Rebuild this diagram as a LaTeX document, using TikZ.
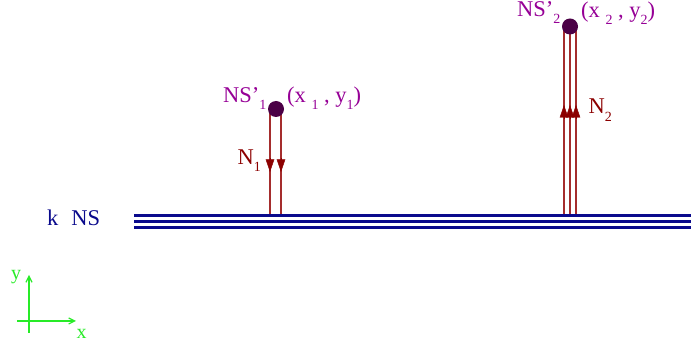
\documentclass[tikz,border=0pt]{standalone}
\usepackage{fontspec}
\setmainfont{Liberation Serif}
\usetikzlibrary{arrows.meta,calc}
\definecolor{navy}{RGB}{10,10,140}
\definecolor{purp}{RGB}{150,0,150}
\definecolor{dotc}{RGB}{75,0,70}
\definecolor{nred}{RGB}{140,0,0}
\definecolor{lred}{RGB}{165,45,45}
\definecolor{axg}{RGB}{40,235,40}
\newcommand{\mysub}[1]{\raisebox{-0.32em}{\fontsize{14}{14}\selectfont #1}}
\tikzset{
  txt/.style={inner sep=0pt, anchor=base west, font=\fontsize{22.5}{26}\selectfont},
  nslab/.style={txt, text=purp},
  nlab/.style={txt, text=nred},
  dotn/.style={circle, fill=dotc, minimum size=16pt, inner sep=0pt},
  layer/.style={draw=navy, line width=2.4pt},
  flux/.style={draw=lred, line width=1.3pt},
  tipd/.style={-{Triangle[length=12.5pt,width=8.5pt]}, nred},
  axis/.style={draw=axg, line width=1.2pt, -{Straight Barb[length=6pt,width=6pt]}},
  axlab/.style={inner sep=0pt, anchor=base west, text=axg, font=\fontsize{20}{24}\selectfont}
}
\begin{document}
\begin{tikzpicture}[x=1pt,y=-1pt]
\useasboundingbox (0,0) rectangle (691,347);
% layers
\coordinate (L1a) at (134,215.5); \coordinate (L1b) at (691,215.5);
\coordinate (L2a) at (134,221.5); \coordinate (L2b) at (691,221.5);
\coordinate (L3a) at (134,227.5); \coordinate (L3b) at (691,227.5);
\draw[layer] (L1a) -- (L1b);
\draw[layer] (L2a) -- (L2b);
\draw[layer] (L3a) -- (L3b);
\node[txt, text=navy] (kns) at (47,226) {k\hspace{13pt}NS};
% NS'1 flux lines (downward)
\coordinate (a1t) at (270,112); \coordinate (a1m) at (270,172); \coordinate (a1b) at (270,214.3);
\coordinate (b1t) at (281,112); \coordinate (b1m) at (281,172); \coordinate (b1b) at (281,214.3);
\draw[flux] (a1t) -- (a1b);
\draw[flux] (b1t) -- (b1b);
\draw[tipd] ($(a1m)+(0,-14)$) -- (a1m);
\draw[tipd] ($(b1m)+(0,-14)$) -- (b1m);
% NS'2 flux lines (upward)
\coordinate (a2t) at (564,28); \coordinate (a2m) at (564,105); \coordinate (a2b) at (564,214.3);
\coordinate (b2t) at (570,28); \coordinate (b2m) at (570,105); \coordinate (b2b) at (570,214.3);
\coordinate (c2t) at (576,28); \coordinate (c2m) at (576,105); \coordinate (c2b) at (576,214.3);
\draw[flux] (a2t) -- (a2b);
\draw[flux] (b2t) -- (b2b);
\draw[flux] (c2t) -- (c2b);
\draw[tipd] ($(a2m)+(0,14)$) -- (a2m);
\draw[tipd] ($(b2m)+(0,14)$) -- (b2m);
\draw[tipd] ($(c2m)+(0,14)$) -- (c2m);
% dots
\node[dotn] (d1) at (276,109) {};
\node[dotn] (d2) at (570,26.5) {};
% labels
\node[nslab] (ns1) at (223,102.7) {NS’\mysub{1}};
\node[nslab] (xy1) at (287,102.7) {(x \mysub{1} , y\mysub{1})};
\node[nslab] (ns2) at (517,16.5) {NS’\mysub{2}};
\node[nslab] (xy2) at (581,17.5) {(x \mysub{2} , y\mysub{2})};
\node[nlab] (n1) at (237.5,164.3) {N\mysub{1}};
\node[nlab] (n2) at (588.3,114) {N\mysub{2}};
% axes
\coordinate (o) at (29,321);
\coordinate (ys) at (29,333); \coordinate (ye) at (29,275);
\coordinate (xs) at (17,321); \coordinate (xe) at (76,321);
\draw[axis] (ys) -- (ye);
\draw[axis] (xs) -- (xe);
\node[axlab] (ylab) at (11,280) {y};
\node[axlab] (xlab) at (76.5,339) {x};
\end{tikzpicture}
\end{document}
